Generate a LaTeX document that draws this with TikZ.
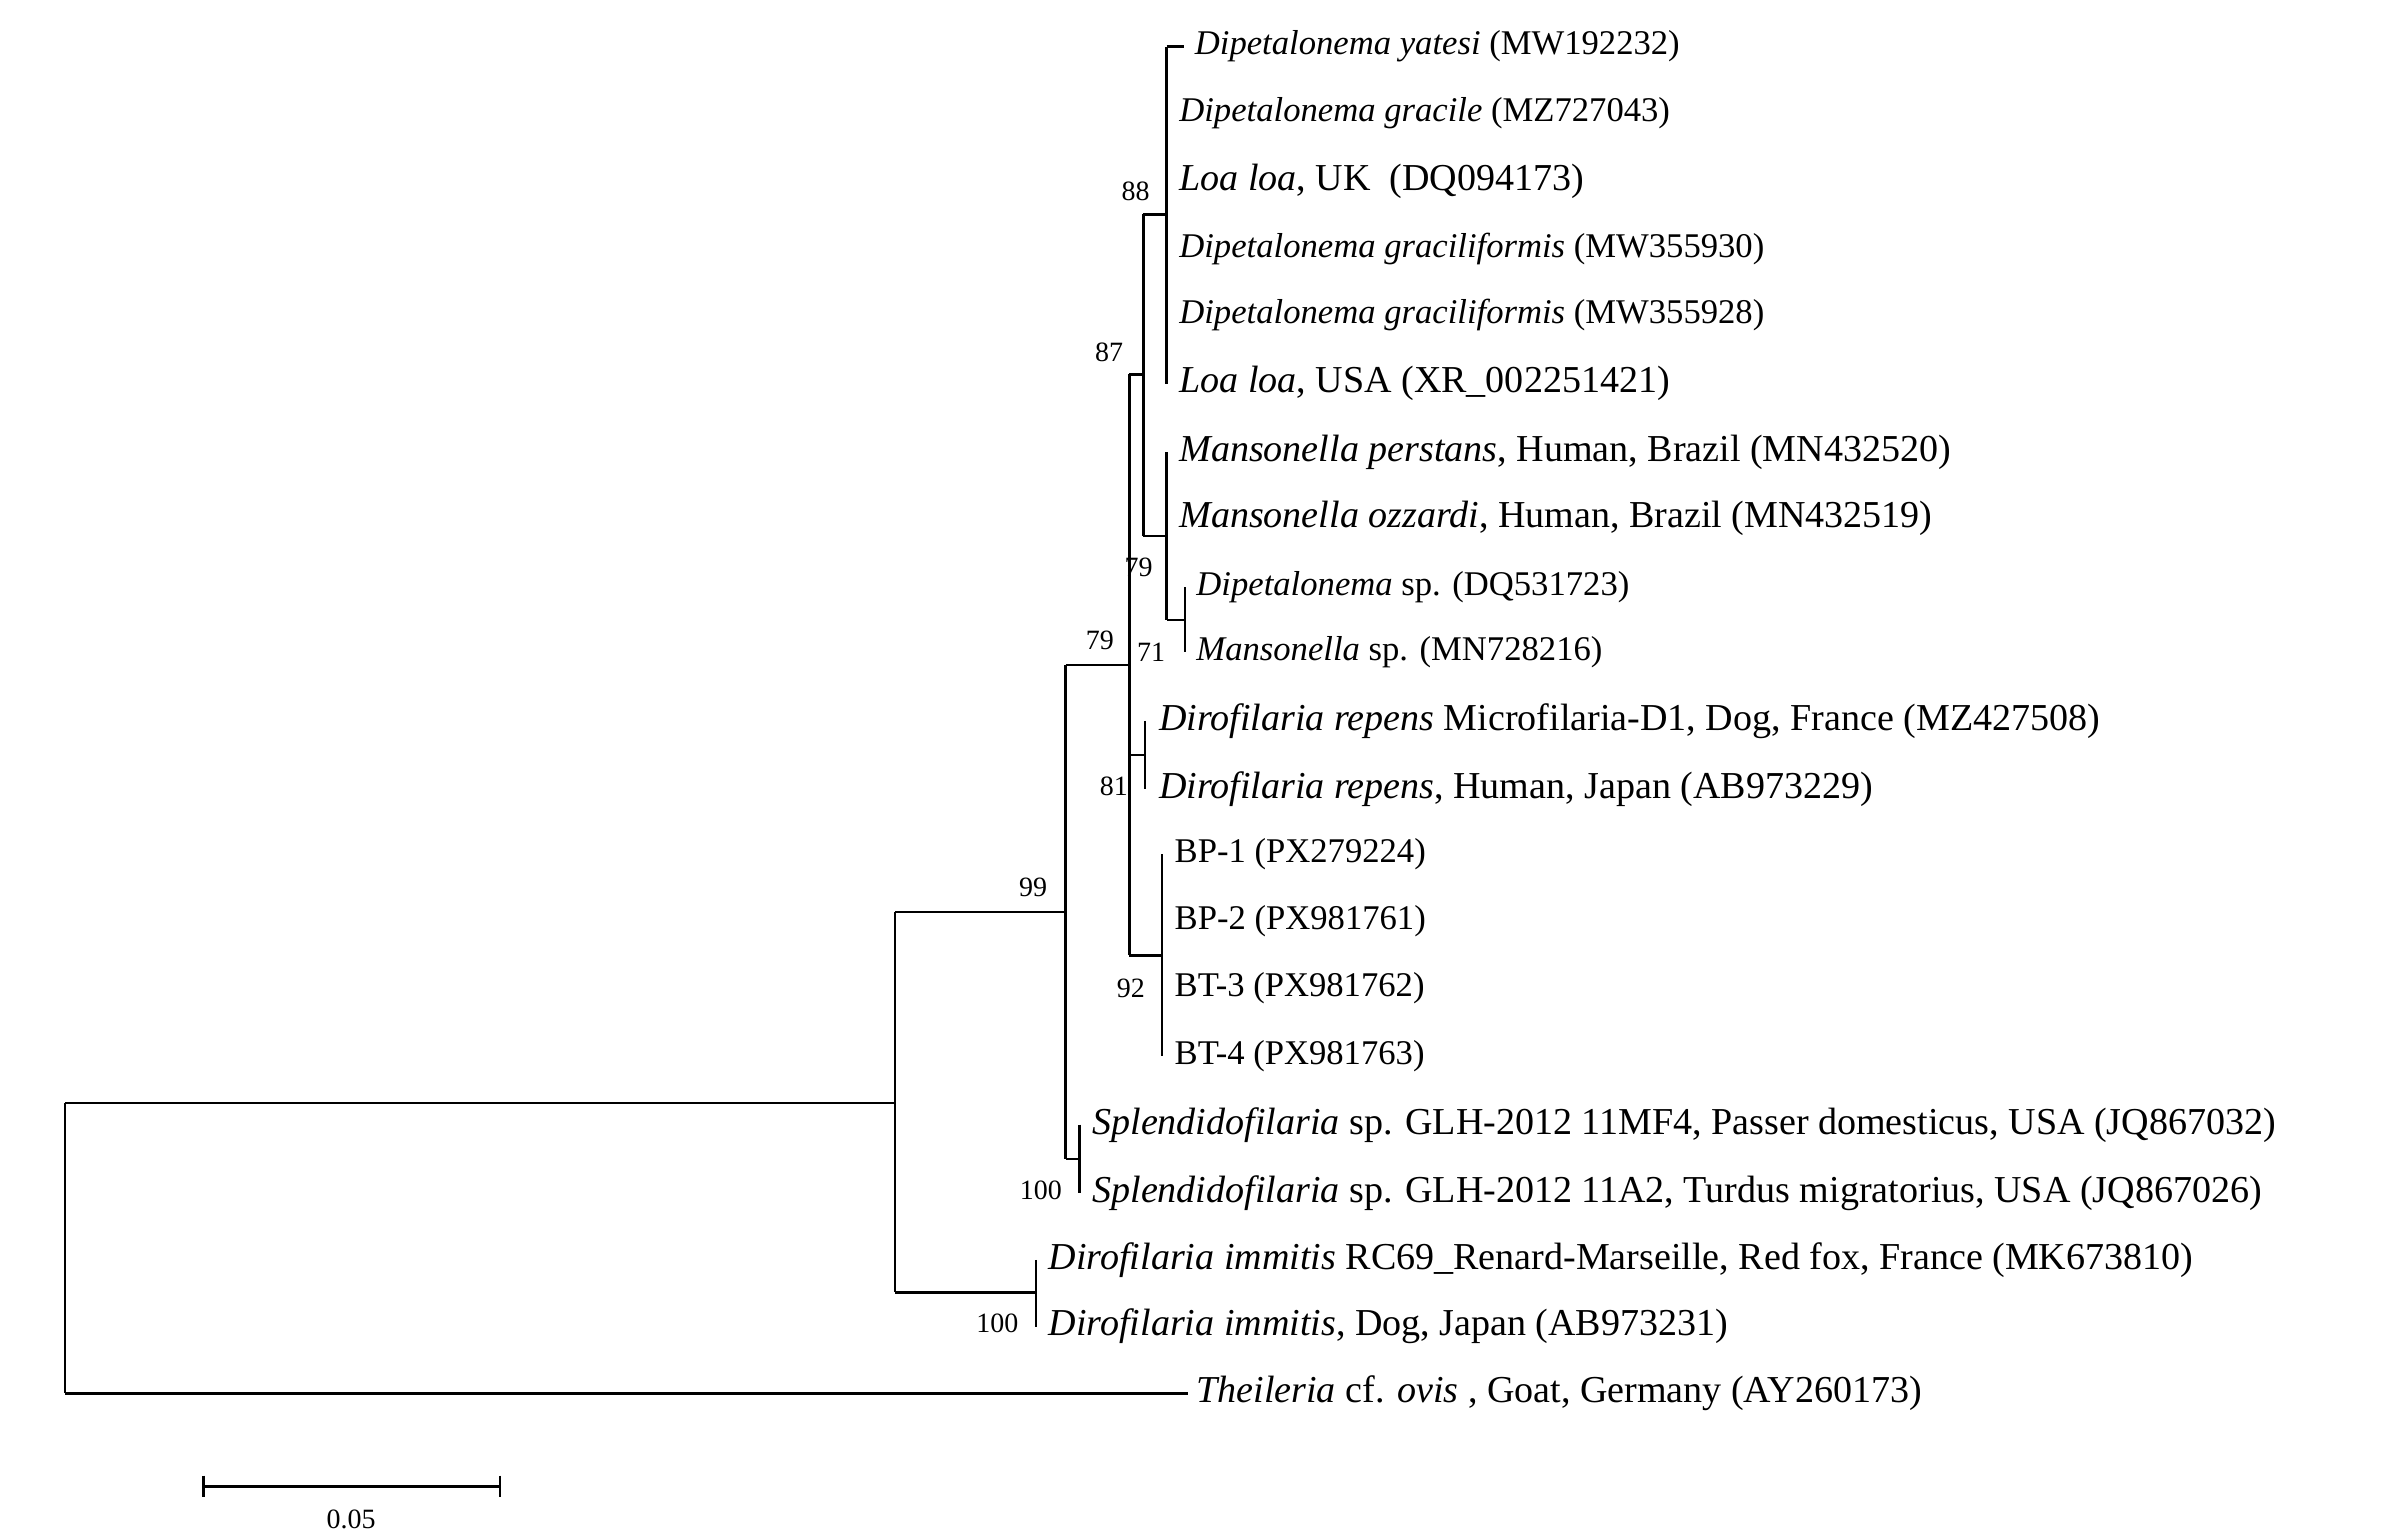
\documentclass[tikz,border=0pt]{standalone}
\usepackage{fontspec}
\setmainfont{Liberation Serif}
\begin{document}
\begin{tikzpicture}[x=1pt,y=-1pt,
  br/.style={line width=1.6pt},
  tip/.style={anchor=west,inner sep=0pt,font=\fontsize{22.3}{22}\selectfont},
  tipb/.style={anchor=west,inner sep=0pt,font=\fontsize{24.5}{24}\selectfont},
  bs/.style={inner sep=0pt,font=\fontsize{18}{18}\selectfont}]
\useasboundingbox (0,0) rectangle (1545,985);
% coordinates
\coordinate (A) at (751,30); \coordinate (Ab) at (751,247);
\coordinate (M) at (751,291); \coordinate (Mb) at (751,399);
\coordinate (S) at (763,378); \coordinate (Sb) at (763,420);
\coordinate (N87) at (736,138); \coordinate (N87b) at (736,345);
\coordinate (R) at (737,464); \coordinate (Rb) at (737,508);
\coordinate (B) at (748,550); \coordinate (Bb) at (748,680);
\coordinate (C) at (727,241); \coordinate (Cb) at (727,615);
\coordinate (P) at (695,724); \coordinate (Pb) at (695,768);
\coordinate (D) at (686,428); \coordinate (Db) at (686,746);
\coordinate (I) at (667,811); \coordinate (Ib) at (667,854);
\coordinate (E) at (576,587); \coordinate (Eb) at (576,832);
\coordinate (Rt) at (42,710); \coordinate (Rtb) at (42,897);
\coordinate (T) at (765,897);
\coordinate (sb1) at (131,957); \coordinate (sb2) at (322,957);
% tree
\draw[br] (A) -- (Ab);
\draw[br] (A) -- ++(11,0);
\draw[br] (M) -- (Mb);
\draw[br] (S) -- (Sb);
\draw[br] (751,399) -- (763,399);
\draw[br] (N87) -- (N87b);
\draw[br] (736,138) -- (751,138);
\draw[br] (736,345) -- (751,345);
\draw[br] (R) -- (Rb);
\draw[br] (B) -- (Bb);
\draw[br] (C) -- (Cb);
\draw[br] (727,241) -- (736,241);
\draw[br] (727,486) -- (737,486);
\draw[br] (727,615) -- (748,615);
\draw[br] (P) -- (Pb);
\draw[br] (D) -- (Db);
\draw[br] (686,428) -- (727,428);
\draw[br] (686,746) -- (695,746);
\draw[br] (I) -- (Ib);
\draw[br] (E) -- (Eb);
\draw[br] (576,587) -- (686,587);
\draw[br] (576,832) -- (667,832);
\draw[br] (Rt) -- (Rtb);
\draw[br] (42,710) -- (576,710);
\draw[br] (Rtb) -- (T);
% scale bar
\draw[br] (sb1) -- (sb2);
\draw[br] (131,950) -- (131,964);
\draw[br] (322,950) -- (322,964);
\node[bs] (sbl) at (226,978) {0.05};
% bootstrap
\node[bs] (b88) at (731,123) {88};
\node[bs] (b87) at (714,227) {87};
\node[bs] (b79a) at (733,365) {79};
\node[bs] (b71) at (741,420) {71};
\node[bs] (b79b) at (708,412) {79};
\node[bs] (b81) at (717,506) {81};
\node[bs] (b92) at (728,636) {92};
\node[bs] (b99) at (665,571) {99};
\node[bs] (b100a) at (670,766) {100};
\node[bs] (b100b) at (642,852) {100};
% tips
\node[tip] (t1) at (769,30) {\textit{Dipetalonema yatesi} (MW192232)};
\node[tip] (t2) at (759,73) {\textit{Dipetalonema gracile} (MZ727043)};
\node[tipb] (t3) at (759,117) {\textit{Loa loa}, UK\ \ (DQ094173)};
\node[tip] (t4) at (759,160) {\textit{Dipetalonema graciliformis} (MW355930)};
\node[tip] (t5) at (759,203) {\textit{Dipetalonema graciliformis} (MW355928)};
\node[tipb] (t6) at (759,247) {\textit{Loa loa}, USA (XR\_002251421)};
\node[tipb] (t7) at (759,291) {\textit{Mansonella perstans}, Human, Brazil (MN432520)};
\node[tipb] (t8) at (759,334) {\textit{Mansonella ozzardi}, Human, Brazil (MN432519)};
\node[tip] (t9) at (770,378) {\textit{Dipetalonema} sp. (DQ531723)};
\node[tip] (t10) at (770,420) {\textit{Mansonella} sp. (MN728216)};
\node[tipb] (t11) at (746,464) {\textit{Dirofilaria repens} Microfilaria-D1, Dog, France (MZ427508)};
\node[tipb] (t12) at (746,508) {\textit{Dirofilaria repens}, Human, Japan (AB973229)};
\node[tip] (t13) at (756,550) {BP-1 (PX279224)};
\node[tip] (t14) at (756,593) {BP-2 (PX981761)};
\node[tip] (t15) at (756,636) {BT-3 (PX981762)};
\node[tip] (t16) at (756,680) {BT-4 (PX981763)};
\node[tipb] (t17) at (703,724) {\textit{Splendidofilaria} sp. GLH-2012 11MF4, Passer domesticus, USA (JQ867032)};
\node[tipb] (t18) at (703,768) {\textit{Splendidofilaria} sp. GLH-2012 11A2, Turdus migratorius, USA (JQ867026)};
\node[tipb] (t19) at (675,811) {\textit{Dirofilaria immitis} RC69\_Renard-Marseille, Red fox, France (MK673810)};
\node[tipb] (t20) at (675,854) {\textit{Dirofilaria immitis}, Dog, Japan (AB973231)};
\node[tipb] (t21) at (770,897) {\textit{Theileria} cf. \textit{ovis} , Goat, Germany (AY260173)};
\end{tikzpicture}
\end{document}
